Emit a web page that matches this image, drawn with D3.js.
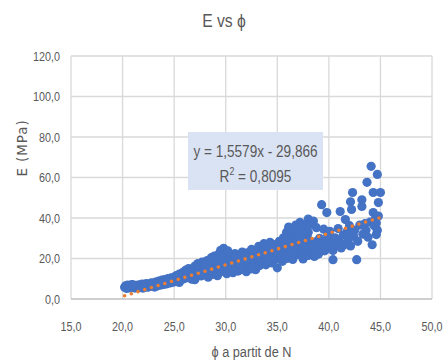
<!DOCTYPE html>
<html>
<head>
<meta charset="utf-8">
<script src="https://cdn.jsdelivr.net/npm/d3@7"></script>
<style>
  html, body { margin: 0; padding: 0; background: #ffffff; }
  svg { display: block; }
</style>
</head>
<body>
<svg id="chart" width="448" height="362"></svg>
<script>
// Tick values for both axes
const xTicks = [15, 20, 25, 30, 35, 40, 45, 50];
const yTicks = [0, 20, 40, 60, 80, 100, 120];

// Linear trend fitted to the samples
const trendSlope = 1.5579;
const trendIntercept = -29.866;
const trendR2 = 0.8095;

// Measured samples: [phi, E (MPa)]
const samples = [
  [20.2,5.8],[20.3,6.5],[20.4,5.2],[20.5,6.9],[20.6,6.0],[20.7,5.5],[20.8,6.6],[20.9,7.1],[21.0,5.9],[21.1,6.4],
  [21.2,5.4],[21.3,6.8],[21.4,6.1],[21.5,5.7],[21.6,7.0],[21.7,6.3],[21.8,5.6],[21.9,7.4],[22.0,6.2],[22.1,5.8],
  [22.2,6.9],[22.3,7.6],[22.4,6.0],[22.5,5.9],[21.0,7.0],[22.0,5.4],
  [22.6,7.2],[22.7,6.4],[22.8,8.0],[22.9,6.8],[23.0,7.5],[23.1,5.9],[23.2,8.4],[23.3,7.0],[23.4,6.5],[23.5,8.9],
  [23.6,7.8],[23.7,6.9],[23.8,9.3],[23.9,8.1],[24.0,7.2],[24.1,9.6],[24.2,8.5],[24.3,7.5],[24.4,10.1],[24.5,8.8],
  [24.6,7.9],[24.7,10.4],[24.8,9.2],[24.9,8.3],[25.0,10.8],[25.1,9.0],[23.5,7.3],[24.5,10.0],
  [25.2,11.5],[25.3,8.6],[25.4,10.2],[25.5,12.3],[25.6,9.4],[25.7,11.0],[25.8,13.0],[25.9,9.9],[26.0,11.8],[26.1,14.2],
  [26.2,10.5],[26.3,12.6],[26.4,15.0],[26.5,11.2],[26.6,13.4],[26.7,9.8],[26.8,14.5],[26.9,12.0],[27.0,16.2],[27.1,10.9],
  [27.2,13.8],[27.3,17.5],[27.4,12.5],[27.5,15.1],[27.6,11.4],[27.7,18.2],[27.8,14.0],[27.9,16.5],[28.0,12.8],
  [25.5,8.2],[26.5,13.0],[27.0,9.5],[27.5,12.2],
  [28.1,15.5],[28.2,19.0],[28.3,10.8],[28.4,13.2],[28.5,17.2],[28.6,20.4],[28.7,12.1],[28.8,15.8],[28.9,21.2],[29.0,14.0],
  [29.1,18.3],[29.2,11.5],[29.3,22.0],[29.4,16.4],[29.5,24.0],[29.6,13.6],[29.7,19.5],[29.8,25.0],[29.9,15.2],[30.0,21.5],
  [30.1,12.5],[30.2,23.8],[30.3,17.4],[30.4,14.3],[30.5,20.0],[28.0,16.8],[28.5,14.4],[29.0,19.2],[29.5,17.8],[30.0,18.6],
  [30.6,16.2],[30.7,13.0],[30.8,18.8],[30.9,22.4],[31.0,15.1],[31.1,19.7],[31.2,13.8],[31.3,17.5],[31.4,21.6],[31.5,14.6],
  [31.6,23.2],[31.7,18.1],[31.8,15.9],[31.9,20.6],[32.0,13.5],[32.1,22.8],[32.2,17.0],[32.3,19.4],[32.4,15.3],[32.5,24.5],
  [32.6,21.0],[32.7,16.8],[32.8,18.6],[32.9,14.5],[33.0,23.0],[30.5,15.4],[31.0,21.0],[31.5,17.0],[32.0,19.0],[32.5,14.9],
  [33.1,19.8],[33.2,26.0],[33.3,16.5],[33.4,21.8],[33.5,24.2],[33.6,18.0],[33.7,27.3],[33.8,20.5],[33.9,16.9],[34.0,23.5],
  [34.1,25.8],[34.2,19.2],[34.3,28.0],[34.4,21.3],[34.5,17.8],[34.6,24.8],[34.7,22.2],[34.8,26.9],[34.9,19.9],[35.0,15.4],
  [35.1,23.9],[35.2,28.5],[35.3,21.0],[35.4,25.6],[35.5,18.6],[33.0,20.8],[33.5,22.6],[34.0,18.5],[34.5,26.4],[35.0,22.8],
  [35.6,30.2],[35.7,22.6],[35.8,27.4],[35.9,33.0],[36.0,20.1],[36.0,25.2],[36.1,35.5],[36.2,29.0],[36.3,23.4],[36.4,31.8],
  [36.5,19.5],[36.5,27.0],[36.6,34.2],[36.7,24.8],[36.8,36.5],[36.9,29.8],[37.0,21.9],[37.0,32.5],[37.1,26.3],[37.2,37.8],
  [37.3,23.0],[37.4,30.6],[37.5,34.8],[37.5,19.8],[37.6,27.8],[37.7,36.2],[37.8,24.5],[37.9,31.2],[38.0,39.5],[38.0,21.5],
  [35.5,27.0],[36.0,29.4],[36.5,22.0],[37.0,28.8],[37.5,25.6],[38.0,33.0],[38.5,25.0],
  [38.1,28.6],[38.2,36.8],[38.3,23.2],[38.4,26.0],[38.5,38.5],[38.6,21.0],[38.7,28.2],[38.8,35.2],[38.9,24.6],[39.0,22.2],
  [39.1,30.0],[39.3,46.6],[39.4,26.5],[39.5,34.5],[39.6,23.8],[39.8,42.7],[39.8,28.8],[39.9,31.5],[40.0,25.4],
  [40.1,33.4],[40.2,27.2],[40.4,19.4],[40.4,24.0],[40.6,30.2],[40.7,26.5],[40.9,34.8],[41.0,28.3],[41.1,43.2],[41.2,25.2],
  [41.4,31.5],[41.6,39.2],[41.6,27.0],[41.8,33.6],[41.9,29.4],[42.0,36.2],[42.1,48.0],[42.1,26.2],[42.2,44.2],[42.3,52.6],
  [42.4,31.0],[42.5,34.0],
  [42.7,19.4],[42.8,28.5],[43.0,36.5],[43.2,49.0],[43.2,45.7],[43.3,32.0],[43.5,37.2],[43.6,34.0],[43.7,57.6],[43.8,30.5],
  [44.0,38.0],[44.1,65.5],[44.2,26.8],[44.3,52.6],[44.3,42.7],[44.4,36.2],[44.5,39.5],[44.6,31.8],[44.7,61.5],[44.7,34.0],
  [44.8,47.6],[44.8,41.0],[45.0,52.6],[44.6,37.5]
];

const fmt = v => v.toFixed(1).replace('.', ',');
const comma = v => String(v).replace('.', ',');

const svg = d3.select('#chart');
const plot = { left: 71, right: 432, top: 56, bottom: 299 };
const textColor = '#595959';

const x = d3.scaleLinear().domain([15, 50]).range([plot.left, plot.right]);
const y = d3.scaleLinear().domain([0, 120]).range([plot.bottom, plot.top]);

// Horizontally condensed text, placed at (px, py)
function condensed(parent, px, py, size, anchor, squeeze) {
  return parent.append('g')
    .attr('transform', `translate(${px},${py}) scale(${squeeze},1)`)
    .append('text')
    .attr('font-family', '"Liberation Sans", Arial, sans-serif')
    .attr('font-size', size)
    .attr('text-anchor', anchor)
    .attr('fill', textColor);
}

// Gridlines
svg.append('g')
  .selectAll('line')
  .data(yTicks.filter(t => t > 0))
  .join('line')
  .attr('x1', plot.left).attr('x2', plot.right)
  .attr('y1', d => y(d)).attr('y2', d => y(d))
  .attr('stroke', '#d9d9d9').attr('stroke-width', 1.3);

svg.append('g')
  .selectAll('line')
  .data(xTicks)
  .join('line')
  .attr('x1', d => x(d)).attr('x2', d => x(d))
  .attr('y1', plot.top).attr('y2', plot.bottom)
  .attr('stroke', '#d9d9d9').attr('stroke-width', 1.3);

// Horizontal axis line
svg.append('line')
  .attr('x1', plot.left).attr('x2', plot.right)
  .attr('y1', y(0)).attr('y2', y(0))
  .attr('stroke', '#bfbfbf').attr('stroke-width', 1.3);

// Tick labels
const yLab = svg.append('g');
yTicks.forEach(t => {
  condensed(yLab, 60, y(t) + 4.8, 13.5, 'end', 0.8).text(fmt(t));
});
const xLab = svg.append('g');
xTicks.forEach(t => {
  condensed(xLab, x(t), 331, 13.5, 'middle', 0.8).text(fmt(t));
});

// Data points
svg.append('g')
  .selectAll('circle')
  .data(samples)
  .join('circle')
  .attr('cx', d => x(d[0]))
  .attr('cy', d => y(d[1]))
  .attr('r', 4.6)
  .attr('fill', '#4472c4');

// Dotted linear trendline across the sampled range
const xExtent = d3.extent(samples, d => d[0]);
svg.append('line')
  .attr('x1', x(xExtent[0])).attr('y1', y(trendSlope * xExtent[0] + trendIntercept))
  .attr('x2', x(xExtent[1])).attr('y2', y(trendSlope * xExtent[1] + trendIntercept))
  .attr('stroke', '#ed7d31')
  .attr('stroke-width', 3.6)
  .attr('stroke-linecap', 'round')
  .attr('stroke-dasharray', '0 7');

// Equation label
const box = { x: 188, y: 132, w: 135, h: 58 };
svg.append('rect')
  .attr('x', box.x).attr('y', box.y)
  .attr('width', box.w).attr('height', box.h)
  .attr('fill', '#dae3f3');

const eqG = svg.append('g');
const signStr = trendIntercept < 0 ? ' - ' : ' + ';
condensed(eqG, box.x + box.w / 2, 157, 17, 'middle', 0.8)
  .text('y = ' + comma(trendSlope) + 'x' + signStr + comma(Math.abs(trendIntercept)));
const r2 = condensed(eqG, box.x + box.w / 2, 182, 17, 'middle', 0.8);
r2.append('tspan').text('R');
r2.append('tspan').attr('font-size', 11).attr('dy', -7).text('2');
r2.append('tspan').attr('dy', 7).text(' = ' + comma(trendR2));

// Titles
condensed(svg, 224, 27, 18.5, 'middle', 0.85).text('E vs \u03d5');
condensed(svg, (plot.left + plot.right) / 2, 357, 15, 'middle', 0.85).text('\u03d5 a partit de N');

svg.append('text')
  .attr('transform', 'translate(27,148) rotate(-90)')
  .attr('text-anchor', 'middle')
  .attr('font-family', '"DejaVu Sans", sans-serif')
  .attr('font-size', 13.5)
  .attr('letter-spacing', 0.9)
  .attr('fill', textColor)
  .text('E (MPa)');
</script>
</body>
</html>
